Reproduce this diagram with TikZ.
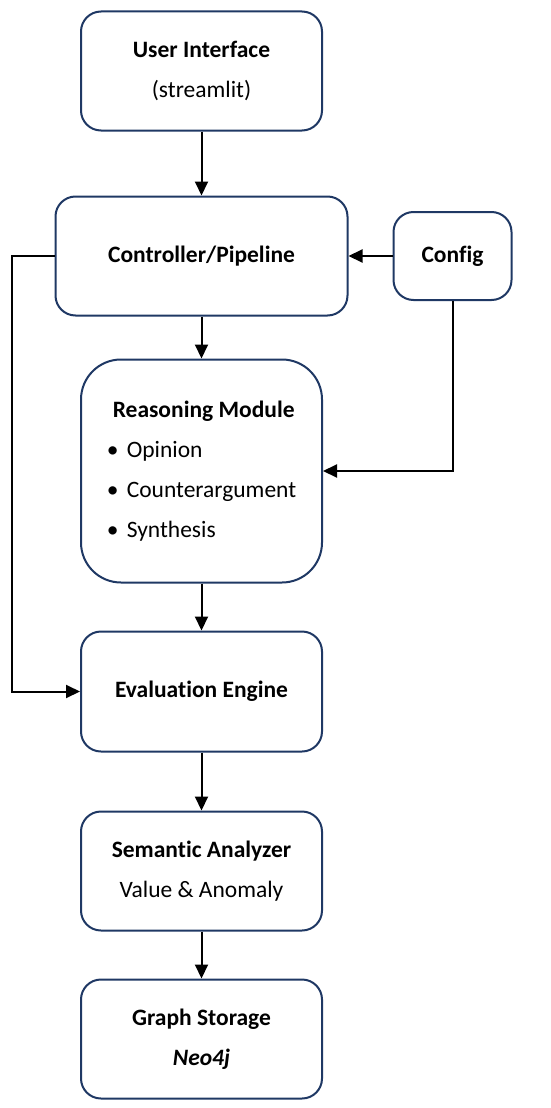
\documentclass[tikz,border=0pt]{standalone}
\usepackage{fontspec}
\setmainfont[Ligatures={NoCommon}]{Carlito}
\usetikzlibrary{arrows.meta, positioning}
\definecolor{boxnavy}{HTML}{1F3864}

\begin{document}
\begin{tikzpicture}[x=1pt, y=-1pt]
	\tikzset{block/.style={draw=boxnavy, line width=2pt, rounded corners=20pt, minimum width=241pt, minimum height=119pt, align=center, font=\fontsize{23.5}{40}\selectfont},
		flow/.style={-{Triangle[length=14pt, width=13pt]}, line width=2pt, black}}
	\useasboundingbox (0,0) rectangle (550,1108);

	\node[block] (ui) at (201.5,71) {\bfseries User Interface\\(streamlit)};
	\node[block, below=64pt of ui, minimum width=292pt] (ctrl) {\bfseries Controller/Pipeline};
	\node[block, right=44pt of ctrl, minimum width=118pt, minimum height=88pt] (cfg) {\bfseries Config};
	\node[block, below=42pt of ctrl, minimum height=223pt, rounded corners=40pt, align=left] (reason) {\hspace{6pt}\bfseries Reasoning Module\\\makebox[20pt][l]{•}Opinion\\\makebox[20pt][l]{•}Counterargument\\\makebox[20pt][l]{•}Synthesis};
	\node[block, below=47pt of reason, minimum height=120pt] (eval) {\bfseries Evaluation Engine};
	\node[block, below=58pt of eval] (sem) {\bfseries Semantic Analyzer\\Value \& Anomaly};
	\node[block, below=47pt of sem] (store) {\bfseries Graph Storage\\\bfseries\itshape Neo4j};

	\draw[flow] (ui) -- (ctrl);
	\draw[flow] (cfg) -- (ctrl);
	\draw[flow] (ctrl) -- (reason);
	\draw[flow] (reason) -- (eval);
	\draw[flow] (eval) -- (sem);
	\draw[flow] (sem) -- (store);
	\draw[flow] (ctrl.west) -- ++(-43,0) |- (eval.west);
	\draw[flow] (cfg.south) |- (reason.east);
\end{tikzpicture}
\end{document}
